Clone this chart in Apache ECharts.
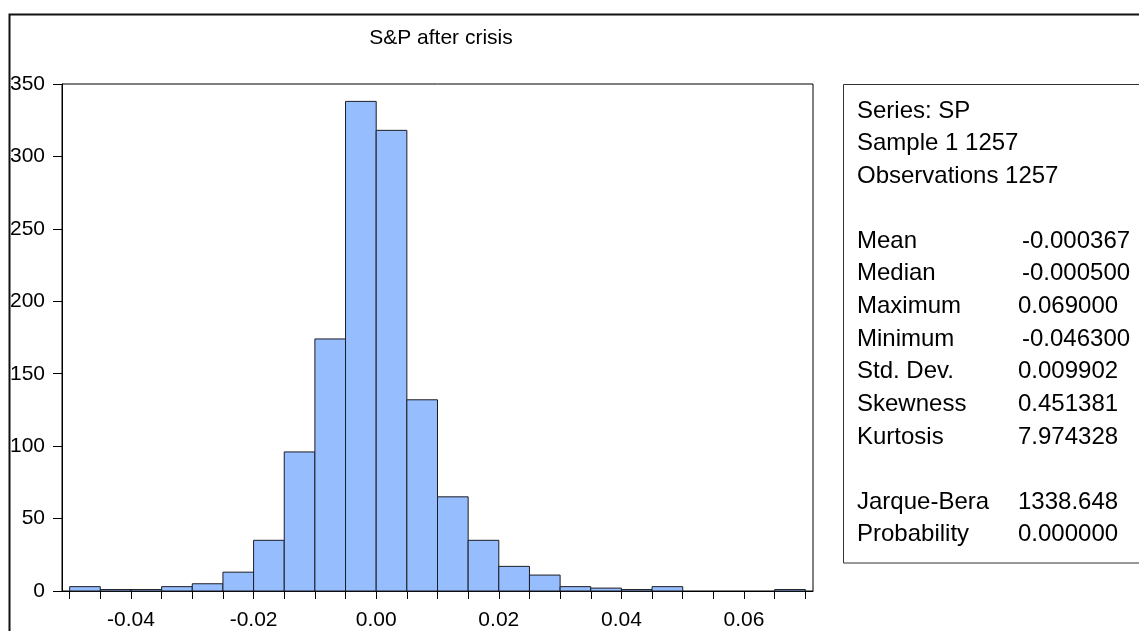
<!DOCTYPE html>
<html>
<head>
<meta charset="utf-8">
<title>S&amp;P after crisis</title>
<script src="https://cdn.jsdelivr.net/npm/echarts@6/dist/echarts.min.js"></script>
<style>
  html, body { margin: 0; padding: 0; background: #fff; }
  #chart { width: 1139px; height: 631px; }
</style>
</head>
<body>
<div id="chart"></div>
<script>
// Histogram bin edges (returns)
const binEdges = [
  -0.050, -0.045, -0.040, -0.035, -0.030, -0.025, -0.020, -0.015, -0.010, -0.005,
   0.000,  0.005,  0.010,  0.015,  0.020,  0.025,  0.030,  0.035,  0.040,  0.045,
   0.050,  0.055,  0.060,  0.065,  0.070
];
// Observation counts per bin
const counts = [
  3, 1, 1, 3, 5, 13, 35, 96, 174, 338,
  318, 132, 65, 35, 17, 11, 3, 2, 1, 3,
  0, 0, 0, 1
];
// Labelled x ticks
const xTickLabels = [-0.04, -0.02, 0.00, 0.02, 0.04, 0.06];

// Descriptive statistics panel
const headerLines = ['Series: SP', 'Sample 1 1257', 'Observations 1257'];
const statNames = ['Mean', 'Median', 'Maximum', 'Minimum', 'Std. Dev.', 'Skewness', 'Kurtosis'];
const statValues = ['-0.000367', '-0.000500', '0.069000', '-0.046300', '0.009902', '0.451381', '7.974328'];
const testNames = ['Jarque-Bera', 'Probability'];
const testValues = ['1338.648', '0.000000'];

const FONT = 'Arial, "Liberation Sans", Helvetica, sans-serif';

const chart = echarts.init(document.getElementById('chart'), null, { renderer: 'canvas' });

function textEl(x, y, text, size) {
  return {
    type: 'text',
    x: x, y: y,
    style: {
      text: text, fill: '#000', font: size + 'px ' + FONT,
      textAlign: 'left', textVerticalAlign: 'middle'
    },
    z: 10
  };
}

// Statistics text: header block, moments block, normality test block
const panelEls = [];
const lineH = 32.7;
headerLines.forEach((t, i) => panelEls.push(textEl(857, 111 + i * lineH, t, 24)));
statNames.forEach((t, i) => {
  const y = 241 + i * lineH;
  panelEls.push(textEl(857, y, t, 24));
  const v = statValues[i];
  panelEls.push(textEl(v.charAt(0) === '-' ? 1022 : 1018, y, v, 24));
});
testNames.forEach((t, i) => {
  const y = 502 + i * lineH;
  panelEls.push(textEl(857, y, t, 24));
  panelEls.push(textEl(1018, y, testValues[i], 24));
});

const seriesData = counts.map((c, i) => [binEdges[i], binEdges[i + 1], c]);

chart.setOption({
  animation: false,
  backgroundColor: '#fff',
  title: {
    text: 'S&P after crisis',
    left: 436,
    top: 23,
    textAlign: 'center',
    textStyle: { fontFamily: FONT, fontSize: 21, fontWeight: 'normal', color: '#000' }
  },
  grid: {
    left: 62, top: 84, width: 751, height: 510,
    show: true, borderColor: '#000', borderWidth: 1, backgroundColor: 'transparent'
  },
  xAxis: {
    type: 'value',
    min: -0.05125,
    max: 0.07125,
    axisLine: { show: true, onZero: false, lineStyle: { color: '#000', width: 1 } },
    axisTick: { show: true, customValues: binEdges, length: 8, lineStyle: { color: '#000' } },
    axisLabel: {
      customValues: xTickLabels,
      formatter: v => v.toFixed(2),
      color: '#000', fontFamily: FONT, fontSize: 21, margin: 19
    },
    splitLine: { show: false }
  },
  yAxis: {
    type: 'value',
    min: 0, max: 350, interval: 50,
    axisLine: { show: true, onZero: false, lineStyle: { color: '#000', width: 1 } },
    axisTick: { show: true, length: 9, lineStyle: { color: '#000' } },
    axisLabel: { color: '#000', fontFamily: FONT, fontSize: 21, margin: 17, padding: [0, 0, 6, 0] },
    splitLine: { show: false }
  },
  series: [{
    type: 'custom',
    data: seriesData,
    encode: { x: [0, 1], y: 2 },
    renderItem: function (params, api) {
      const c = api.value(2);
      if (!c) return null;
      const p0 = api.coord([api.value(0), c]);
      const p1 = api.coord([api.value(1), 0]);
      return {
        type: 'rect',
        shape: { x: p0[0], y: p0[1], width: p1[0] - p0[0], height: p1[1] - p0[1] },
        style: { fill: '#96BEFF', stroke: '#1c1c24', lineWidth: 1 }
      };
    }
  }],
  graphic: [
    {
      type: 'rect',
      shape: { x: 9.5, y: 14.5, width: 1200, height: 700 },
      style: { fill: 'none', stroke: '#111', lineWidth: 2 },
      silent: true
    },
    {
      type: 'rect',
      shape: { x: 843.5, y: 84.5, width: 400, height: 478.5 },
      style: { fill: 'none', stroke: '#333', lineWidth: 1 },
      silent: true
    }
  ].concat(panelEls)
});
</script>
</body>
</html>
